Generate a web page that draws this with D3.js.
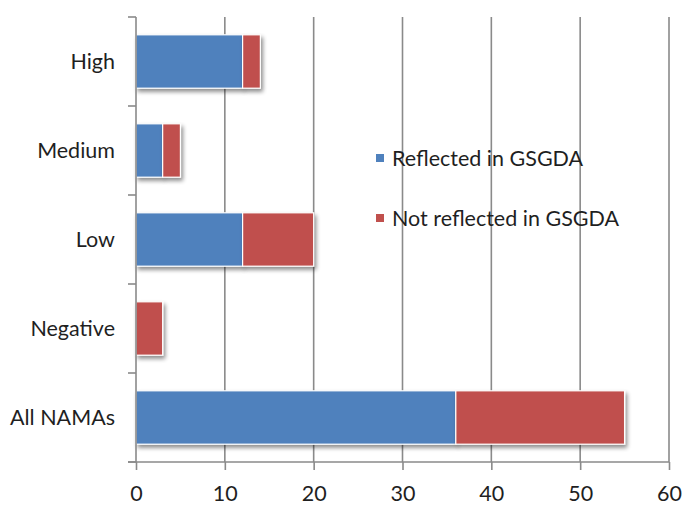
<!DOCTYPE html>
<html>
<head>
<meta charset="utf-8">
<script src="https://cdn.jsdelivr.net/npm/d3@7"></script>
<style>
  html, body { margin: 0; padding: 0; background: #fff; }
  svg { display: block; }
  text { font-family: Lato, "Liberation Sans", sans-serif; fill: #1f1f1f; }
</style>
</head>
<body>
<svg id="chart" width="682" height="508"></svg>
<script>
// Number of NAMAs by mitigation potential, split by GSGDA coverage
const categories = ["High", "Medium", "Low", "Negative", "All NAMAs"];
const reflected = [12, 3, 12, 0, 36];
const notReflected = [2, 2, 8, 3, 19];
const seriesNames = ["Reflected in GSGDA", "Not reflected in GSGDA"];
const seriesColors = ["#4F81BD", "#C0504D"];
const xTicks = [0, 10, 20, 30, 40, 50, 60];

const svg = d3.select("#chart");
const margin = { left: 136, right: 13, top: 17, bottom: 46 };
const W = 682, H = 508;
const fontSize = 21.5;

const x = d3.scaleLinear().domain([0, 60]).range([margin.left, W - margin.right]);
const y = d3.scaleBand().domain(categories).range([margin.top, H - margin.bottom]).paddingInner(0.4).paddingOuter(0.2);
const yOuter = d3.scaleBand().domain(categories).range([margin.top, H - margin.bottom]);

// soft drop shadow under the bars
const defs = svg.append("defs");
const f = defs.append("filter").attr("id", "shadow").attr("x", "-5%").attr("y", "-20%").attr("width", "115%").attr("height", "160%");
f.append("feGaussianBlur").attr("in", "SourceAlpha").attr("stdDeviation", 2.2).attr("result", "b");
f.append("feOffset").attr("in", "b").attr("dx", 2).attr("dy", 3).attr("result", "o");
f.append("feComponentTransfer").attr("in", "o").attr("result", "s")
  .append("feFuncA").attr("type", "linear").attr("slope", 0.45);
const m = f.append("feMerge");
m.append("feMergeNode").attr("in", "s");
m.append("feMergeNode").attr("in", "SourceGraphic");

// vertical gridlines
svg.append("g").selectAll("line").data(xTicks.slice(1)).join("line")
  .attr("x1", d => x(d)).attr("x2", d => x(d))
  .attr("y1", margin.top).attr("y2", H - margin.bottom)
  .attr("stroke", "#8a8a8a").attr("stroke-width", 1.6);

// stacked bars
const stacked = d3.stack().keys([0, 1]).value((d, k) => d[k])(categories.map((c, i) => [reflected[i], notReflected[i]]));
stacked.forEach((layer, si) => {
  svg.append("g").attr("filter", "url(#shadow)").selectAll("rect")
    .data(layer.map((d, i) => ({ cat: categories[i], x0: d[0], x1: d[1] })).filter(d => d.x1 - d.x0 > 0))
    .join("rect")
    .attr("x", d => x(d.x0))
    .attr("y", d => y(d.cat))
    .attr("width", d => x(d.x1) - x(d.x0))
    .attr("height", y.bandwidth())
    .attr("fill", seriesColors[si])
    .attr("stroke", "#fff").attr("stroke-width", 1.2);
});

// x axis
const xAxis = svg.append("g").attr("transform", `translate(0,${H - margin.bottom})`)
  .call(d3.axisBottom(x).tickValues(xTicks).tickSize(8).tickPadding(16));
xAxis.select(".domain").remove();
xAxis.selectAll("line").attr("stroke", "#8a8a8a").attr("stroke-width", 1.6);
xAxis.selectAll("text").attr("font-size", fontSize).style("font-family", "Lato, sans-serif").attr("fill", "#1f1f1f");
svg.append("line").attr("x1", margin.left - 8).attr("x2", W - margin.right)
  .attr("y1", H - margin.bottom).attr("y2", H - margin.bottom)
  .attr("stroke", "#8a8a8a").attr("stroke-width", 1.6);

// y axis with ticks between categories
svg.append("line").attr("x1", margin.left).attr("x2", margin.left)
  .attr("y1", margin.top).attr("y2", H - margin.bottom)
  .attr("stroke", "#8a8a8a").attr("stroke-width", 1.6);
const bounds = categories.map(c => yOuter(c)).concat([H - margin.bottom]);
svg.append("g").selectAll("line").data(bounds).join("line")
  .attr("x1", margin.left - 8).attr("x2", margin.left)
  .attr("y1", d => d).attr("y2", d => d)
  .attr("stroke", "#8a8a8a").attr("stroke-width", 1.6);
svg.append("g").selectAll("text").data(categories).join("text")
  .attr("x", margin.left - 21)
  .attr("y", d => yOuter(d) + yOuter.bandwidth() / 2)
  .attr("dy", "0.35em").attr("text-anchor", "end").attr("font-size", fontSize)
  .text(d => d);

// legend
const lg = svg.append("g");
seriesNames.forEach((n, i) => {
  const ly = 158 + i * 60;
  lg.append("rect").attr("x", 376).attr("y", ly - 4).attr("width", 8).attr("height", 8).attr("fill", seriesColors[i]);
  lg.append("text").attr("x", 392).attr("y", ly).attr("dy", "0.35em").attr("font-size", fontSize).text(n);
});
</script>
</body>
</html>
